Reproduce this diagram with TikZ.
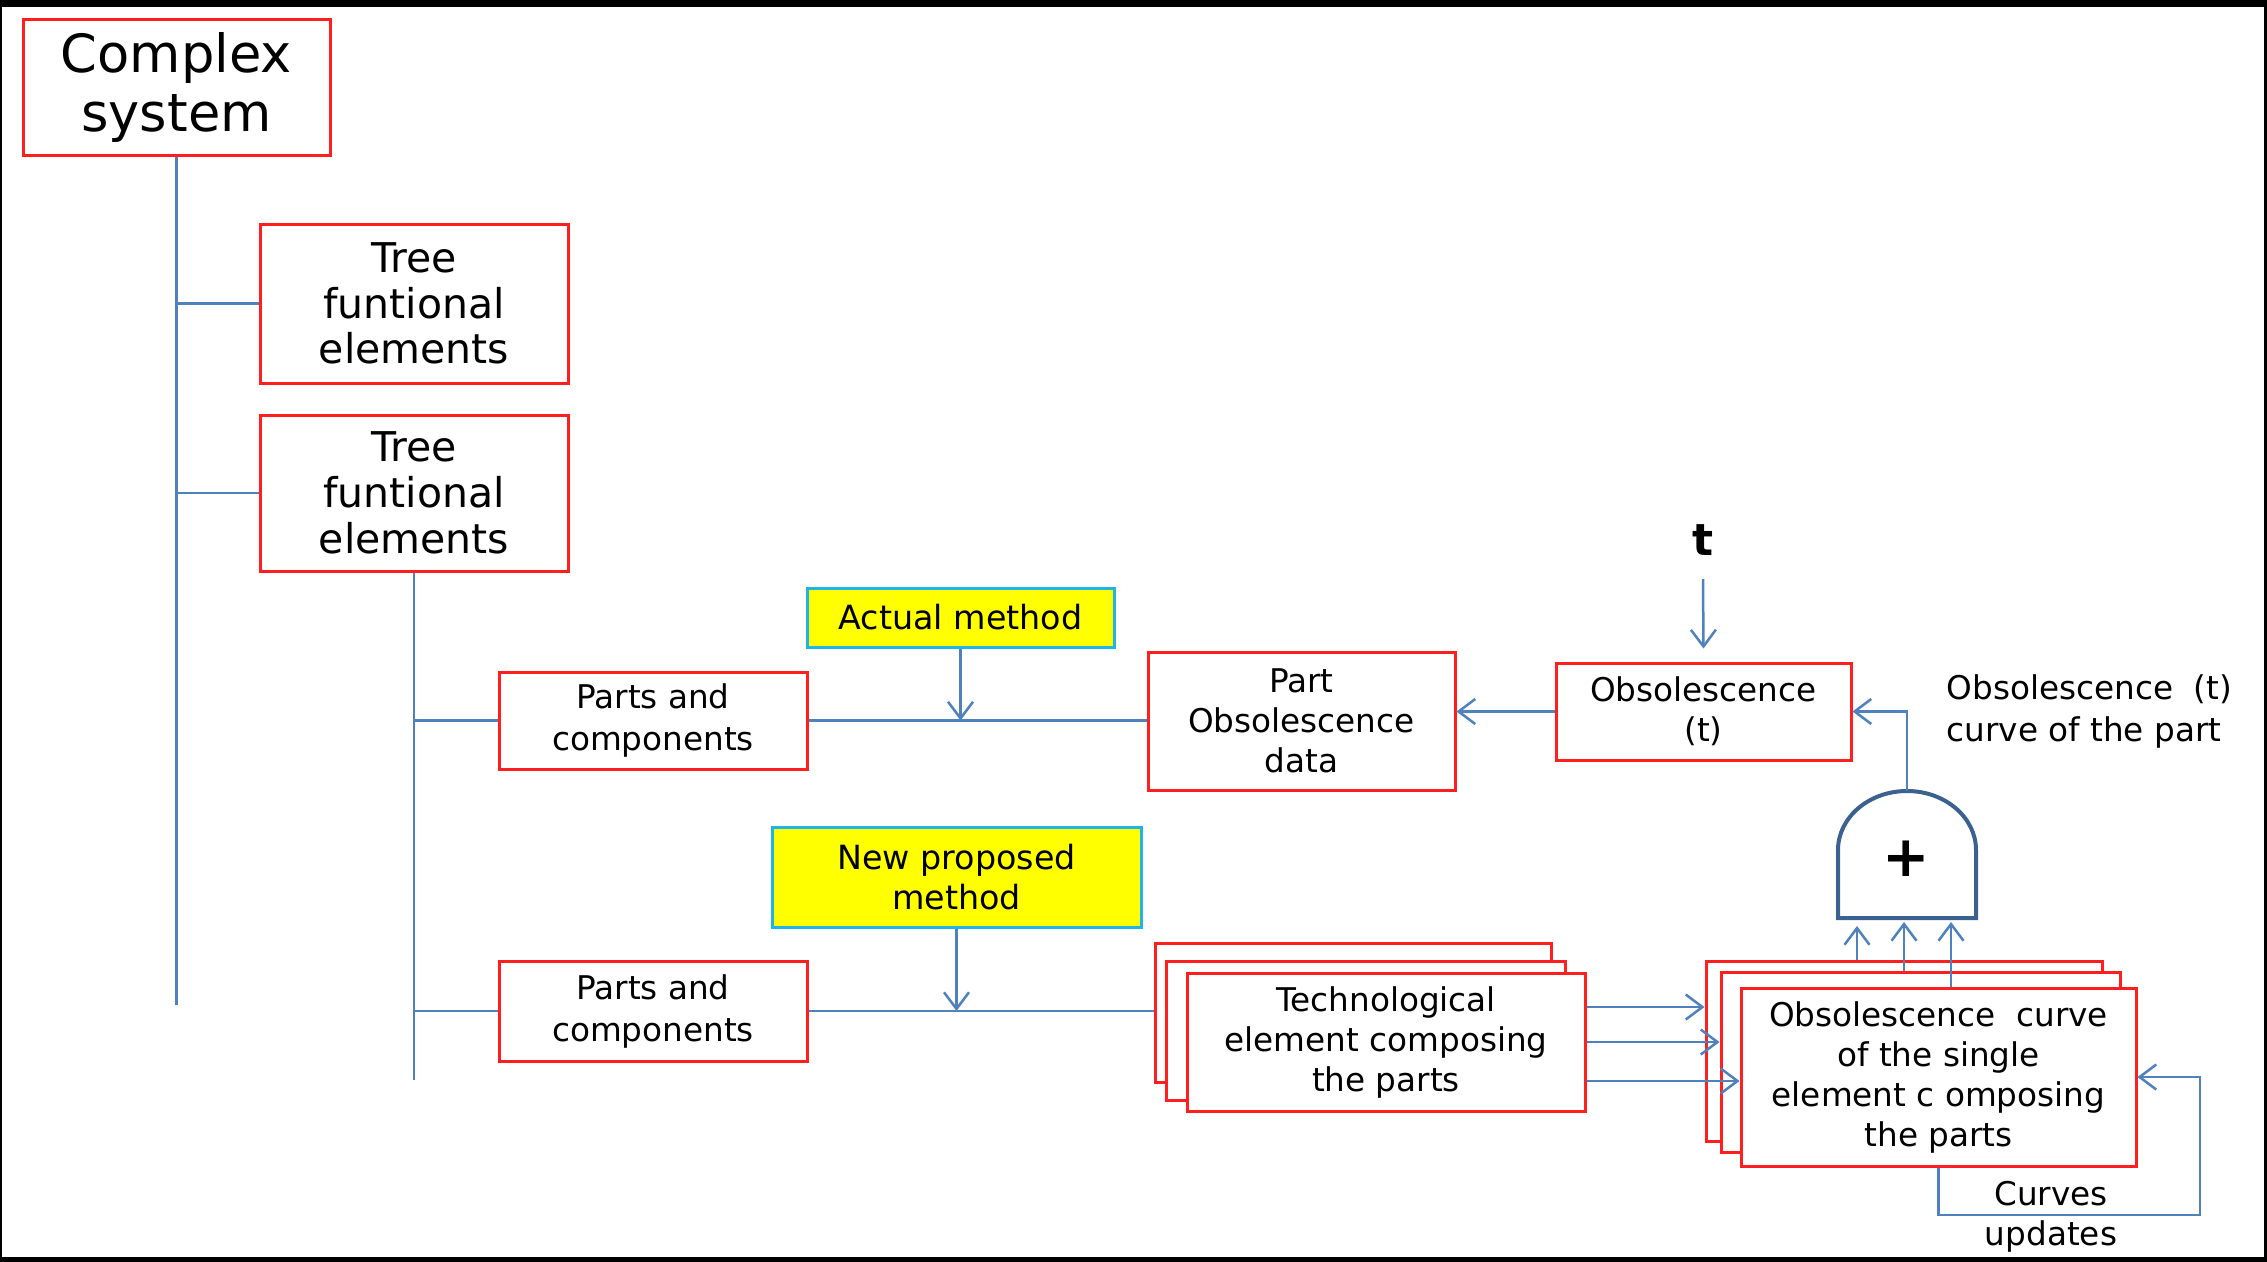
\documentclass[tikz,border=0pt]{standalone}
\usepackage{fontspec}
\setmainfont{DejaVu Sans}
\usetikzlibrary{arrows.meta,calc}
\definecolor{boxred}{HTML}{FF1F1F}
\definecolor{lineblue}{HTML}{4F81BD}
\definecolor{gateblue}{HTML}{3A6190}
\definecolor{cyanb}{HTML}{1FB4E8}
\definecolor{yel}{HTML}{FFFF00}
\begin{document}
\begin{tikzpicture}[x=0.3pt,y=-0.3pt,
  rbox/.style={draw=boxred,line width=0.9pt,fill=white,align=center,inner sep=0pt,font=\fontsize{9.8}{12}\selectfont},
  ybox/.style={draw=cyanb,line width=0.9pt,fill=yel,align=center,inner sep=0pt,font=\fontsize{10}{12.2}\selectfont},
  conn/.style={draw=lineblue,line width=0.75pt},
  arr/.style={conn,-{Straight Barb[length=5pt,width=7.5pt]}},
  ]
% frame
\useasboundingbox (0,0) rectangle (2267,1262);
\fill[black] (0,0) rectangle (2267,1262);
\fill[white] (2,7) rectangle (2264,1257);

% nodes
\node[rbox,minimum width=92.1pt,minimum height=40.8pt,font=\fontsize{15.8}{17.7}\selectfont] (cs) at (176.5,87) {Complex\\system};
\node[rbox,minimum width=92.4pt,minimum height=47.7pt,font=\fontsize{12.3}{13.7}\selectfont] (tree1) at (414,303.5) {Tree\\funtional\\elements};
\node[rbox,minimum width=92.4pt,minimum height=46.8pt,font=\fontsize{12.3}{13.7}\selectfont] (tree2) at (414,493) {Tree\\funtional\\elements};
\node[rbox,minimum width=92.4pt,minimum height=29.1pt,font=\fontsize{9.8}{12.6}\selectfont] (parts1) at (653,720.5) {Parts and\\components};
\node[rbox,minimum width=92.4pt,minimum height=30pt,font=\fontsize{9.8}{12.6}\selectfont] (parts2) at (653,1011) {Parts and\\components};
\node[ybox,minimum width=92.1pt,minimum height=17.7pt] (actual) at (960.5,617.5) {Actual method};
\node[ybox,minimum width=110.7pt,minimum height=30pt] (newm) at (956.5,877) {New proposed\\method};
\node[rbox,minimum width=92.1pt,minimum height=41.4pt] (pod) at (1301.5,721) {Part\\Obsolescence\\data};
\node[rbox,minimum width=88.5pt,minimum height=29.1pt] (obst) at (1703.5,711.5) {Obsolescence\\(t)};
\node[font=\fontsize{13.2}{15}\selectfont\bfseries,inner sep=0pt] (tl) at (1703,540) {t};

\node[rbox,minimum width=118.8pt,minimum height=41.7pt] (techA) at (1353,1012.5) {};
\node[rbox,minimum width=119.7pt,minimum height=41.7pt] (techB) at (1365.5,1030.5) {};
\node[rbox,minimum width=119.4pt,minimum height=41.4pt] (techC) at (1386,1042) {Technological\\element composing\\the parts};

\node[rbox,minimum width=118.8pt,minimum height=54pt] (obsA) at (1904,1051) {};
\node[rbox,minimum width=119.7pt,minimum height=54pt] (obsB) at (1920.5,1062) {};
\node[rbox,minimum width=118.5pt,minimum height=53.4pt] (obsC) at (1938.5,1077) {Obsolescence\ \ curve\\of the single\\element c omposing\\the parts};

\node[align=left,anchor=west,inner sep=0pt,font=\fontsize{9.8}{12.6}\selectfont] (lab) at (1946,711) {Obsolescence\ \ (t)\\curve of\ the part};
\node[align=center,inner sep=0pt,font=\fontsize{9.8}{12}\selectfont] (cu) at (2051,1217) {Curves\\updates};

% gate
\draw[gateblue,line width=1.2pt,fill=white] (1838,918) -- (1838,850)
  arc[start angle=180,end angle=0,x radius=20.7pt,y radius=17.7pt] -- (1976,918) -- cycle;
\node[font=\fontsize{17}{17}\selectfont\bfseries,inner sep=0pt] (plus) at (1906,859) {+};
\coordinate (gtop) at (1907,791);
\coordinate (g1) at (1857,926);
\coordinate (g2) at (1904,922);
\coordinate (g3) at (1951,922);

% helper coordinates
\coordinate (csend) at (176.5,1005);
\coordinate (t2end) at (414,1080);
\coordinate (ts) at (1703,579);
\coordinate (lr) at (2200,1215);
\path ([yshift=10.5pt]techC.east) coordinate (e1) ([yshift=-11.7pt]techC.east) coordinate (e3);

% connectors
\draw[conn] (cs.south) -- (csend);
\draw[conn] (tree1.west) -- (tree1.west -| cs.south);
\draw[conn] (tree2.west) -- (tree2.west -| cs.south);
\draw[conn] (tree2.south) -- (t2end);
\draw[conn] (parts1.west) -- (parts1.west -| tree2.south);
\draw[conn] (parts2.west) -- (parts2.west -| tree2.south);
\draw[conn] (parts1.east) -- (parts1.east -| pod.west);
\draw[arr] (actual.south) -- (actual.south |- parts1.east);
\draw[conn] (parts2.east) -- (parts2.east -| techA.west);
\draw[arr] (newm.south) -- (newm.south |- parts2.east);
\draw[arr] (obst.west) -- (obst.west -| pod.east);
\draw[arr] (ts) -- ([yshift=3.9pt]obst.north);
\draw[arr] (gtop) |- (obst.east);
\draw[arr] (e1) -- (e1 -| obsA.west);
\draw[arr] (techC.east) -- (techC.east -| obsB.west);
\draw[arr] (e3) -- (e3 -| obsC.west);
\draw[arr] (obsA.north -| g1) -- (g1);
\draw[arr] (obsB.north -| g2) -- (g2);
\draw[arr] (obsC.north -| g3) -- (g3);
\draw[arr] (obsC.south) |- (lr) |- (obsC.east);
\end{tikzpicture}
\end{document}
